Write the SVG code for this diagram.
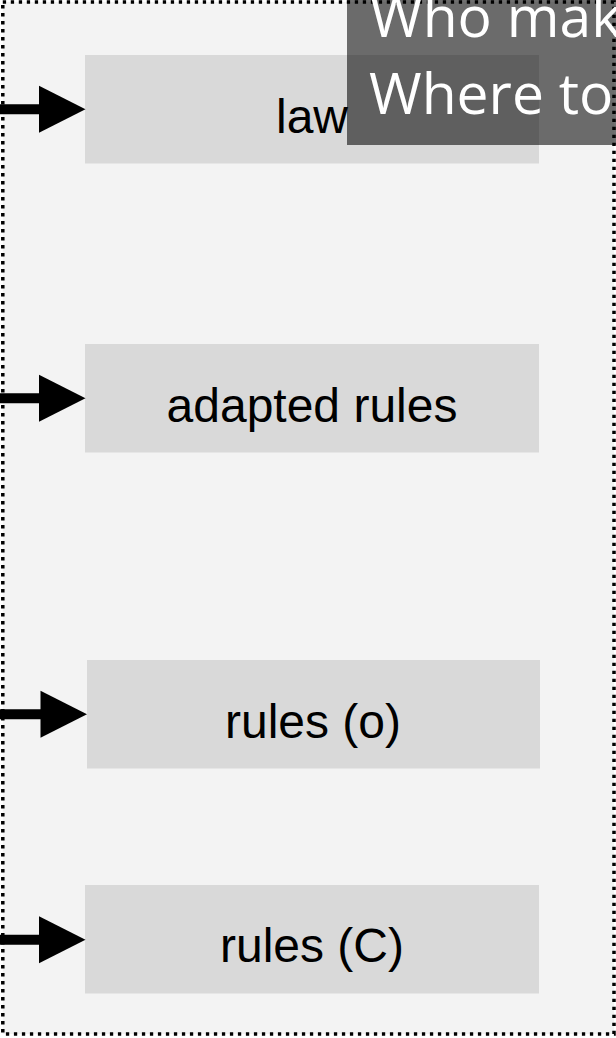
<svg xmlns="http://www.w3.org/2000/svg" width="616" height="1038" viewBox="0 0 616 1038">
  <style>
    .frame { fill: #f3f3f3; stroke: #000000; stroke-width: 3.5; stroke-dasharray: 3.3 4.7; }
    .node rect { fill: #d9d9d9; }
    .node text { font-family: "Liberation Sans", Arial, sans-serif; font-size: 48px; fill: #000000; text-anchor: middle; }
    .shaft { stroke: #000000; stroke-width: 10; fill: none; }
    .head { fill: #000000; }
    .overlay rect { fill: #000000; fill-opacity: 0.56; }
    .overlay text { font-family: "Open Sans", "Noto Sans", sans-serif; font-size: 57px; fill: #ffffff; }
  </style>
  <defs>
    <path id="arrowhead" class="head" d="M0,-23.5 L46.5,0 L0,23.5 Z"/>
  </defs>

  <rect id="frame" class="frame" x="2.8" y="2" width="611.2" height="1032"/>

  <g id="node-law" class="node">
    <rect x="85" y="55" width="454" height="108.5"/>
    <text x="312" y="132.5">law</text>
  </g>
  <g id="node-adapted-rules" class="node">
    <rect x="85" y="344" width="454" height="108.5"/>
    <text x="312" y="421.5">adapted rules</text>
  </g>
  <g id="node-rules-o" class="node">
    <rect x="87" y="660" width="453" height="108.5"/>
    <text x="313" y="737.5">rules (o)</text>
  </g>
  <g id="node-rules-c" class="node">
    <rect x="85" y="885" width="454" height="108.5"/>
    <text x="312" y="961.5">rules (C)</text>
  </g>

  <g id="connectors">
    <path class="shaft" d="M-2,109.3 L40,109.3"/>
    <use href="#arrowhead" x="39" y="109.3"/>
    <path class="shaft" d="M-2,398.3 L40,398.3"/>
    <use href="#arrowhead" x="39" y="398.3"/>
    <path class="shaft" d="M-2,714.3 L41.5,714.3"/>
    <use href="#arrowhead" x="40.5" y="714.3"/>
    <path class="shaft" d="M-2,939.7 L40,939.7"/>
    <use href="#arrowhead" x="39" y="939.7"/>
  </g>

  <g id="overlay" class="overlay">
    <rect x="347" y="-5" width="275" height="150"/>
    <text x="370" y="37">Who mak</text>
    <text x="369" y="114">Where to</text>
  </g>
</svg>
